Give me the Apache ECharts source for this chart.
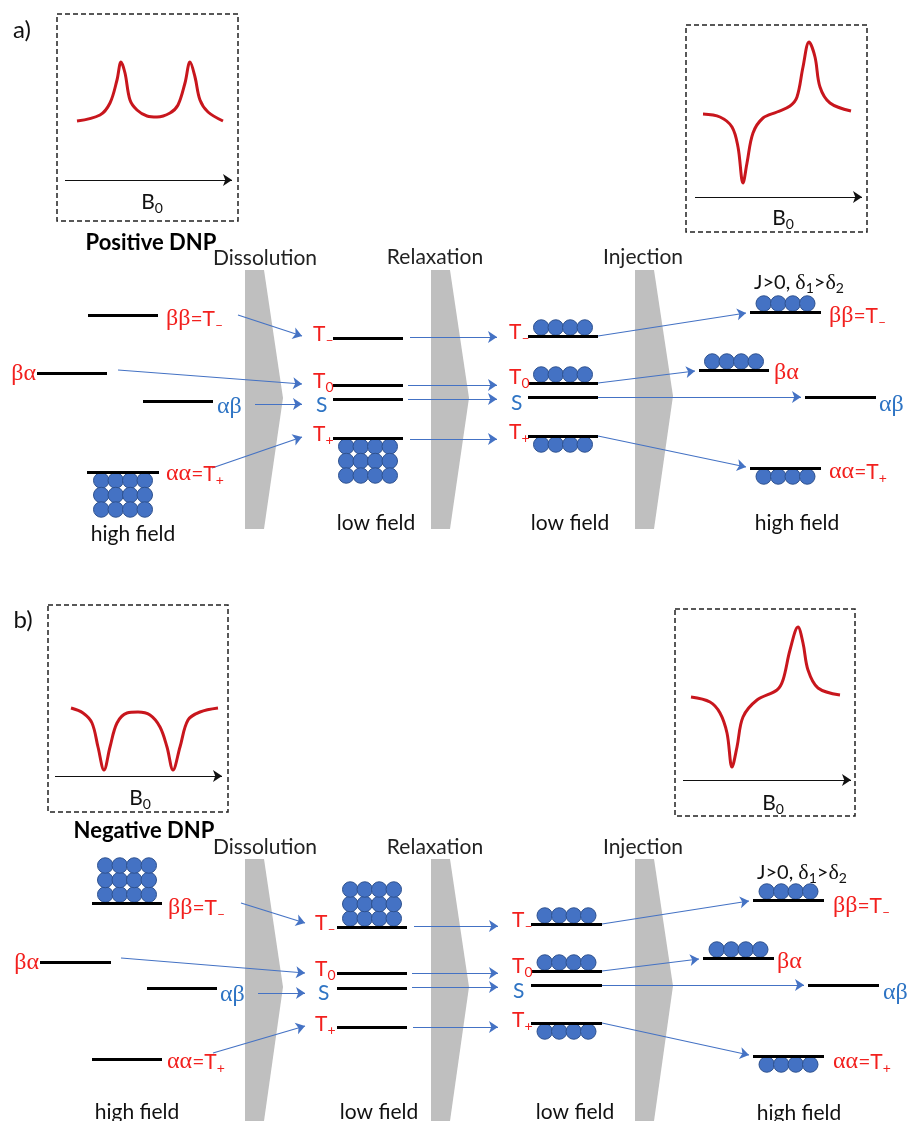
<!DOCTYPE html>
<html><head><meta charset="utf-8">
<script src="https://cdn.jsdelivr.net/npm/echarts@6/dist/echarts.min.js"></script>
<style>html,body{margin:0;padding:0;background:#fff}#c{width:909px;height:1121px}</style>
</head><body><div id="c"></div>
<script>
// ---------------- content / data ----------------
const panelTags = ['a)', 'b)'];
const dnpTitles = ['Positive DNP', 'Negative DNP'];
const stageNames = ['Dissolution', 'Relaxation', 'Injection'];
const fieldNames = ['high field', 'low field', 'low field', 'high field'];
const highStates = ['ββ=T₋', 'βα', 'αβ', 'αα=T₊'];
const lowStates = ['T₋', 'T₀', 'S', 'T₊'];
const stateIsTriplet = [true, true, false, true];   // red = triplet-like, blue = singlet-like
const couplingText = 'J>0, δ₁>δ₂';
const axisLabel = 'B₀';

// populations: rows of spins per level (+ stacked on top, - hanging below)
// columns: high field (start), low field, low field (relaxed), high field (end)
const popA = [[0, 0, 0, -3], [0, 0, 0, -3], [1, 1, 0, -1], [1, 1, 0, -1]];
const popB = [[3, 0, 0, 0], [3, 0, 0, 0], [1, 1, 0, -1], [1, 1, 0, -1]];

// EPR/DNP sketch curves (page px)
const specA1 = [[77,121],[100,115],[110,103],[117,80],[121,62],[125,73],[130,100],[137,110],[147,116],[157,117],[170,113],[178,105],[185,83],[190,62],[195,77],[200,100],[208,112],[223,121]];
const specA2 = [[703,114],[720,117],[732,127],[738,147],[743,183],[747,163],[753,133],[763,118],[777,112],[790,106],[797,97],[803,67],[809,42],[815,57],[820,87],[830,103],[851,111]];
const specB1 = [[71,708],[83,713],[92,723],[98,747],[104,770],[110,747],[117,723],[127,713],[138,712],[150,715],[160,727],[167,747],[173,770],[180,747],[188,720],[200,712],[218,708]];
const specB2 = [[691,697],[710,702],[720,713],[727,733],[732,767],[737,747],[743,717],[757,700],[777,690],[783,680],[790,650],[798,627],[803,643],[808,670],[818,688],[840,695]];

// ---------------- layout (page px) ----------------
const levelsA = [
  [[88,158,315],[37,107,373],[143,213,401],[87,159,472]],
  [[333,403,338],[333,403,385],[333,403,399],[333,403,438]],
  [[528,598,336],[528,598,383],[528,598,397],[528,598,436]],
  [[750,821,312],[699,769,370],[805,876,397],[750,821,468]]
];
const levelsB = [
  [[92,162,903],[40,111,962],[147,217,988],[92,162,1059]],
  [[337,407,927],[337,407,973],[337,407,988],[337,407,1027]],
  [[531,602,924],[531,602,971],[531,602,985],[531,602,1023]],
  [[753,824,900],[703,774,958],[808,879,985],[753,824,1056]]
];
const labelPosA = [
  [[166,319,'left'],[36,374,'right'],[217,407,'left'],[166,474,'left']],
  [[313,334,'left'],[313,381,'left'],[316,405,'left'],[313,434,'left']],
  [[509,332,'left'],[509,377,'left'],[511,403,'left'],[509,432,'left']],
  [[829,316,'left'],[774,373,'left'],[879,405,'left'],[829,472,'left']]
];
const labelPosB = [
  [[168,908,'left'],[39,963,'right'],[220,995,'left'],[167,1062,'left']],
  [[315,923,'left'],[315,969,'left'],[318,993,'left'],[315,1024,'left']],
  [[512,920,'left'],[512,966,'left'],[513,991,'left'],[512,1020,'left']],
  [[833,906,'left'],[777,962,'left'],[883,993,'left'],[833,1062,'left']]
];
const arrowsA = [
  [[238,315],[302,336]],[[118,370],[302,384]],[[255,404],[302,404]],[[212,468],[302,437]],
  [[410,337],[497,337]],[[408,385],[497,385]],[[408,399],[497,399]],[[410,439],[497,439]],
  [[598,336],[746,313]],[[598,383],[695,371]],[[598,397],[801,397]],[[598,436],[746,467]]
];
const arrowsB = [
  [[241,903],[305,923]],[[121,958],[305,973]],[[258,993],[305,993]],[[213,1053],[305,1026]],
  [[414,926],[498,926]],[[412,973],[498,973]],[[412,987],[498,987]],[[413,1027],[498,1027]],
  [[602,924],[749,901]],[[602,971],[699,959]],[[602,985],[804,985]],[[602,1023],[749,1055]]
];
const boxes = [[57,14,238,221],[686,25,867,232],[48,605,228,812],[675,609,855,816]];
const boxAxes = [[[65,180],[232,180]],[[695,197],[862,197]],[[55,776],[222,776]],[[683,780],[851,780]]];
const boxAxisLabelPos = [[152,202],[783,218],[140,798],[773,803]];
function stagePoly(x0, top, tipY, bottom) {
  return [[x0, top], [x0 + 19, top], [x0 + 38, tipY], [x0 + 19, bottom], [x0, bottom]];
}
const stageShapes = [
  stagePoly(245,270,398,529), stagePoly(431,270,398,529), stagePoly(635,270,396,529),
  stagePoly(245,859,987,1121), stagePoly(431,859,987,1121), stagePoly(635,859,986,1121)
];
const stageTitlePos = [[[265,258],[435,257],[643,257]], [[265,847],[435,847],[643,847]]];
const fieldPos = [[[133,534],[376,523],[570,523],[797,523]], [[137,1112],[379,1112],[575,1112],[799,1113]]];
const tagPos = [[22,30],[23,620]];
const titlePos = [[151,243],[144,831]];
const couplingPos = [[754,283],[757,873]];

// ---------------- styles ----------------
const FONT = "Lato, 'Noto Sans', 'DejaVu Sans', sans-serif";
const GREEK_FONT = "'Liberation Serif', 'DejaVu Serif', serif";
const RED = '#F2201E', BLUE = '#2E74C4', SPIN = '#4472C4';

// ---------------- build ----------------
const texts = [];
function addText(x, y, text, color, size, align, weight) {
  texts.push({ x, y, text, color, size, align: align || 'center', weight: weight || 'normal' });
}
const panels = [
  { levels: levelsA, labels: labelPosA, pop: popA, arrows: arrowsA },
  { levels: levelsB, labels: labelPosB, pop: popB, arrows: arrowsB }
];
const levelLines = [], spins = [], arrowLines = [];
panels.forEach((p, pi) => {
  addText(tagPos[pi][0], tagPos[pi][1], panelTags[pi], '#111', 24);
  addText(titlePos[pi][0], titlePos[pi][1], dnpTitles[pi], '#000', 22, 'center', 'bold');
  stageNames.forEach((s, i) => addText(stageTitlePos[pi][i][0], stageTitlePos[pi][i][1], s, '#222', 21));
  fieldNames.forEach((s, i) => addText(fieldPos[pi][i][0], fieldPos[pi][i][1], s, '#111', 21));
  addText(couplingPos[pi][0], couplingPos[pi][1], couplingText, '#111', 20, 'left');
  p.levels.forEach((col, ci) => {
    col.forEach((lv, li) => {
      levelLines.push({ coords: [[lv[0], lv[2]], [lv[1], lv[2]]] });
      const name = (ci === 0 || ci === 3) ? highStates[li] : lowStates[li];
      const lp = p.labels[ci][li];
      addText(lp[0], lp[1], name, stateIsTriplet[li] ? RED : BLUE, 21, lp[2]);
      const rows = p.pop[ci][li];
      const cx = (lv[0] + lv[1]) / 2;
      for (let r = 0; r < Math.abs(rows); r++) {
        const y = lv[2] + (rows > 0 ? -1 : 1) * (8.5 + 14.5 * r);
        for (let j = 0; j < 4; j++) spins.push([cx + (j - 1.5) * 14.5, y]);
      }
    });
  });
  p.arrows.forEach(a => arrowLines.push({ coords: a }));
});
boxAxisLabelPos.forEach(b => addText(b[0], b[1], axisLabel, '#111', 21));

function toRich(t) {
  const map = { '₋': '–', '₊': '+', '₀': '0', '₁': '1', '₂': '2' };
  let out = '';
  for (const ch of t) {
    if (map[ch]) out += '{s|' + map[ch] + '}';
    else if (/[α-ω]/.test(ch)) out += '{g|' + ch + '}';
    else out += ch;
  }
  return out;
}

const chart = echarts.init(document.getElementById('c'), null, { renderer: 'canvas' });
chart.setOption({
  animation: false,
  backgroundColor: '#fff',
  grid: { left: 0, right: 0, top: 0, bottom: 0 },
  xAxis: { type: 'value', min: 0, max: 909, show: false },
  yAxis: { type: 'value', min: 0, max: 1121, inverse: true, show: false },
  series: [
    {
      type: 'custom', coordinateSystem: 'cartesian2d', silent: true, z: 1,
      data: stageShapes.map(s => s[0]),
      renderItem: (params, api) => ({
        type: 'polygon',
        shape: { points: stageShapes[params.dataIndex].map(pt => api.coord(pt)) },
        style: { fill: '#BFBFBF' }
      })
    },
    {
      type: 'lines', coordinateSystem: 'cartesian2d', polyline: true, silent: true, z: 2,
      lineStyle: { color: '#222', width: 1.5, type: [5, 3], opacity: 1 },
      data: boxes.map(b => ({ coords: [[b[0], b[1]], [b[2], b[1]], [b[2], b[3]], [b[0], b[3]], [b[0], b[1]]] }))
    },
    {
      type: 'lines', coordinateSystem: 'cartesian2d', silent: true, z: 2,
      symbol: ['none', 'arrow'], symbolSize: 9,
      lineStyle: { color: '#111', width: 1.2, opacity: 1 },
      data: boxAxes.map(a => ({ coords: a }))
    },
    ...[specA1, specA2, specB1, specB2].map(s => ({
      type: 'line', data: s, smooth: 0.35, showSymbol: false, silent: true, z: 3,
      lineStyle: { color: '#C8161D', width: 3 }
    })),
    {
      type: 'scatter', data: spins, symbol: 'circle', symbolSize: 15.5, silent: true, z: 3,
      itemStyle: { color: SPIN, borderColor: '#2F528F', borderWidth: 1, opacity: 1 }
    },
    {
      type: 'lines', coordinateSystem: 'cartesian2d', silent: true, z: 4,
      lineStyle: { color: '#000', width: 3, opacity: 1 },
      data: levelLines
    },
    {
      type: 'lines', coordinateSystem: 'cartesian2d', silent: true, z: 5,
      symbol: ['none', 'arrow'], symbolSize: 9,
      lineStyle: { color: SPIN, width: 1.2, opacity: 1 },
      data: arrowLines
    },
    {
      type: 'custom', coordinateSystem: 'cartesian2d', silent: true, z: 6,
      data: texts.map(t => [t.x, t.y]),
      renderItem: (params, api) => {
        const t = texts[params.dataIndex];
        const p = api.coord([t.x, t.y]);
        const sub = Math.round(t.size * 0.68);
        return {
          type: 'text', x: p[0], y: p[1],
          style: {
            text: toRich(t.text), fill: t.color, fontSize: t.size, fontFamily: FONT,
            fontWeight: t.weight, align: t.align, verticalAlign: 'middle',
            rich: {
              s: { fontSize: sub, fontFamily: FONT, fill: t.color, padding: [Math.round(t.size * 0.55), 0, 0, 0] },
              g: { fontSize: Math.round(t.size * 1.12), fontFamily: GREEK_FONT, fill: t.color }
            }
          }
        };
      }
    }
  ]
});
</script></body></html>
